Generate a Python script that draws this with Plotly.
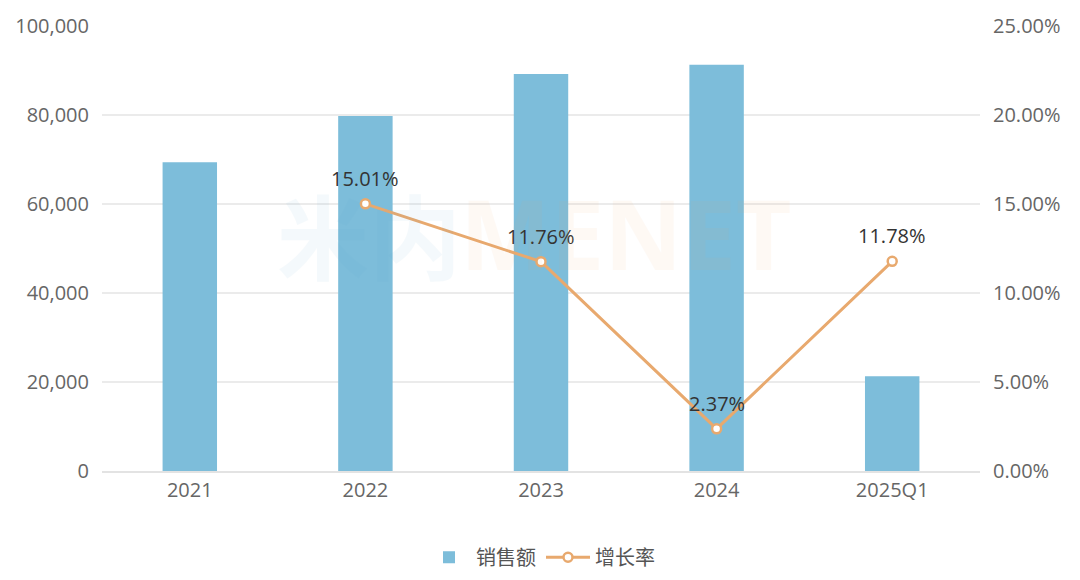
import plotly.graph_objects as go

categories = ["2021", "2022", "2023", "2024", "2025Q1"]
sales = [69400, 79800, 89200, 91300, 21300]
growth_x = ["2022", "2023", "2024", "2025Q1"]
growth = [0.1501, 0.1176, 0.0237, 0.1178]
growth_labels = ["15.01%", "11.76%", "2.37%", "11.78%"]

font_family = "Open Sans, Noto Sans CJK SC, sans-serif"

fig = go.Figure()
fig.add_trace(go.Bar(
    x=categories, y=sales, name="销售额",
    marker=dict(color="#7DBDDA", line=dict(width=0)),
    width=0.31, yaxis="y",
))
fig.add_trace(go.Scatter(
    x=growth_x, y=growth, name="增长率", yaxis="y2",
    mode="lines+markers",
    line=dict(color="#E8A96E", width=3),
    marker=dict(symbol="circle", size=9, color="white", line=dict(color="#E8A96E", width=2.5)),
    cliponaxis=False,
))

for gx, gy, gl in zip(growth_x, growth, growth_labels):
    fig.add_annotation(
        x=categories.index(gx), y=gy, xref="x", yref="y2", text=gl, showarrow=False,
        yanchor="bottom", yshift=10,
        font=dict(size=20, color="#333333", family=font_family),
    )

# faint watermark
fig.add_annotation(
    x=0.5, y=0.535, xref="paper", yref="paper", text="<b>米内</b>", showarrow=False,
    font=dict(size=92, color="#5aa7cf", family="Noto Sans CJK SC"), opacity=0.06, xanchor="right",
    xshift=-78,
)
fig.add_annotation(
    x=0.5, y=0.535, xref="paper", yref="paper", text="<b>MENET</b>", showarrow=False,
    font=dict(size=96, color="#f2a35e", family="Noto Sans"), opacity=0.06, xanchor="left",
    xshift=-83,
)

fig.update_layout(
    width=1080, height=580,
    margin=dict(l=94, r=108, t=18, b=117, autoexpand=False),
    paper_bgcolor="white", plot_bgcolor="white",
    font=dict(family=font_family, size=20, color="#666666"),
    showlegend=True,
    legend=dict(orientation="h", x=0.5, xanchor="center", y=-0.15, yanchor="top",
                font=dict(size=20, color="#555555"), itemwidth=44, traceorder="normal"),
    xaxis=dict(type="category", categoryorder="array", categoryarray=categories,
               range=[-0.5, len(categories) - 0.5],
               showgrid=False, showline=True, linecolor="#E3E3E3", linewidth=1.5,
               ticks="", tickfont=dict(size=20, color="#666666"), automargin=False),
    yaxis=dict(range=[0, 100000], tickvals=[0, 20000, 40000, 60000, 80000, 100000],
               tickformat=",d", showgrid=True, gridcolor="#EBEBEB", gridwidth=1.5,
               zeroline=False, ticks="", ticklabelstandoff=12, automargin=False,
               tickfont=dict(size=20, color="#666666")),
    yaxis2=dict(range=[0, 0.25], tickvals=[0, 0.05, 0.10, 0.15, 0.20, 0.25],
                tickformat=".2%", overlaying="y", side="right", showgrid=False,
                zeroline=False, ticks="", ticklabelstandoff=12, automargin=False,
                tickfont=dict(size=20, color="#666666")),
)

fig.write_html("out.html")
